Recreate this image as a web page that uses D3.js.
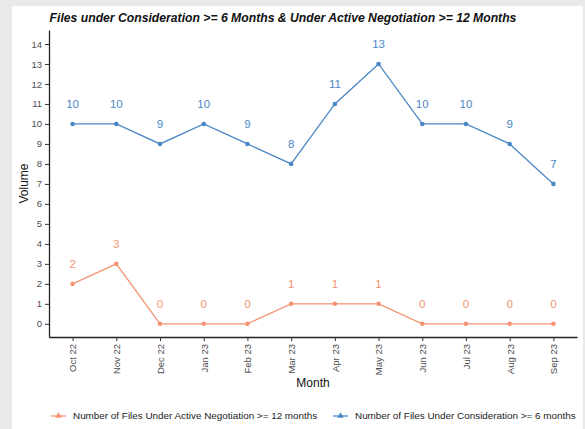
<!DOCTYPE html>
<html>
<head>
<meta charset="utf-8">
<script src="https://cdn.jsdelivr.net/npm/d3@7"></script>
<style>
  body { margin: 0; background: #e9e9e9; }
  svg { display: block; font-family: "Liberation Sans", Arial, sans-serif; }
</style>
</head>
<body>
<div id="chart"></div>
<script>
var months = ["Oct 22", "Nov 22", "Dec 22", "Jan 23", "Feb 23", "Mar 23",
              "Apr 23", "May 23", "Jun 23", "Jul 23", "Aug 23", "Sep 23"];
var consideration = [10, 10, 9, 10, 9, 8, 11, 13, 10, 10, 9, 7];
var negotiation = [2, 3, 0, 0, 0, 1, 1, 1, 0, 0, 0, 0];
var yTicks = d3.range(0, 15);
var seriesNames = ["Number of Files Under Active Negotiation >= 12 months",
                   "Number of Files Under Consideration >= 6 months"];

var W = 585, H = 429,
    margin = {top: 30, right: 8, bottom: 92, left: 49},
    width = W - margin.left - margin.right,
    height = H - margin.top - margin.bottom;

var svg = d3.select("#chart").append("svg")
    .attr("width", W)
    .attr("height", H);

// white card on the grey page
svg.append("rect")
    .attr("x", 12).attr("y", 6)
    .attr("width", 571).attr("height", H - 6)
    .attr("fill", "#fff");

svg.append("text")
    .attr("x", 283).attr("y", 22)
    .attr("text-anchor", "middle")
    .attr("font-size", "12.2px")
    .attr("font-weight", "bold")
    .attr("font-style", "italic")
    .attr("fill", "#111")
    .text("Files under Consideration >= 6 Months & Under Active Negotiation >= 12 Months");

var g = svg.append("g")
    .attr("transform", "translate(" + margin.left + "," + margin.top + ")");

var x = d3.scalePoint()
    .domain(months)
    .range([0, width])
    .padding(0.54);

var y = d3.scaleLinear()
    .domain([-0.66, 14.7])
    .range([height, 0]);

var colors = {neg: "#f39372", con: "#4a87c6"};

// axes
var xAxis = g.append("g")
    .attr("transform", "translate(0," + height + ")")
    .call(d3.axisBottom(x).tickSize(4).tickSizeOuter(0));
xAxis.selectAll("text")
    .attr("transform", "rotate(-90)")
    .attr("text-anchor", "end")
    .attr("x", -7).attr("y", 0).attr("dy", "0.35em")
    .attr("font-size", "9.5px")
    .attr("fill", "#4d4d4d");

var yAxis = g.append("g")
    .call(d3.axisLeft(y).tickValues(yTicks).tickSize(4).tickSizeOuter(0));
yAxis.selectAll("text")
    .attr("font-size", "9.5px")
    .attr("fill", "#4d4d4d");

[xAxis, yAxis].forEach(function(a) {
  a.select(".domain").attr("stroke", "#222").attr("stroke-width", 1.3);
  a.selectAll(".tick line").attr("stroke", "#333");
});

svg.append("text")
    .attr("x", margin.left + width / 2).attr("y", 387)
    .attr("text-anchor", "middle")
    .attr("font-size", "12px")
    .attr("fill", "#111")
    .text("Month");

svg.append("text")
    .attr("transform", "translate(28," + (margin.top + height / 2) + ") rotate(-90)")
    .attr("text-anchor", "middle")
    .attr("font-size", "12px")
    .attr("fill", "#111")
    .text("Volume");

// lines, points, labels
var line = d3.line()
    .x(function(d, i) { return x(months[i]); })
    .y(function(d) { return y(d); });

[[negotiation, colors.neg], [consideration, colors.con]].forEach(function(s) {
  var vals = s[0], c = s[1];
  g.append("path")
      .datum(vals)
      .attr("fill", "none")
      .attr("stroke", c)
      .attr("stroke-width", 1.3)
      .attr("d", line);
  g.selectAll(null)
      .data(vals)
      .enter().append("circle")
      .attr("cx", function(d, i) { return x(months[i]); })
      .attr("cy", function(d) { return y(d); })
      .attr("r", 2.3)
      .attr("fill", c);
  g.selectAll(null)
      .data(vals)
      .enter().append("text")
      .attr("x", function(d, i) { return x(months[i]); })
      .attr("y", function(d) { return y(d + 1); })
      .attr("dy", "0.35em")
      .attr("text-anchor", "middle")
      .attr("font-size", "11.5px")
      .attr("fill", c)
      .text(function(d) { return d; });
});

// legend
var legend = svg.selectAll(".legend")
    .data([[seriesNames[0], colors.neg, 51], [seriesNames[1], colors.con, 333]])
    .enter().append("g")
      .attr("class", "legend")
      .attr("transform", function(d) { return "translate(" + d[2] + ",416)"; });

legend.append("line")
    .attr("x1", 0).attr("x2", 15)
    .attr("stroke", function(d) { return d[1]; })
    .attr("stroke-width", 1.3);

legend.append("path")
    .attr("transform", "translate(7.5,0)")
    .attr("d", d3.symbol(d3.symbolTriangle, 18))
    .attr("fill", function(d) { return d[1]; });

legend.append("text")
    .attr("x", 22).attr("dy", "0.35em")
    .attr("font-size", "9.9px")
    .attr("fill", "#222")
    .text(function(d) { return d[0]; });
</script>
</body>
</html>
